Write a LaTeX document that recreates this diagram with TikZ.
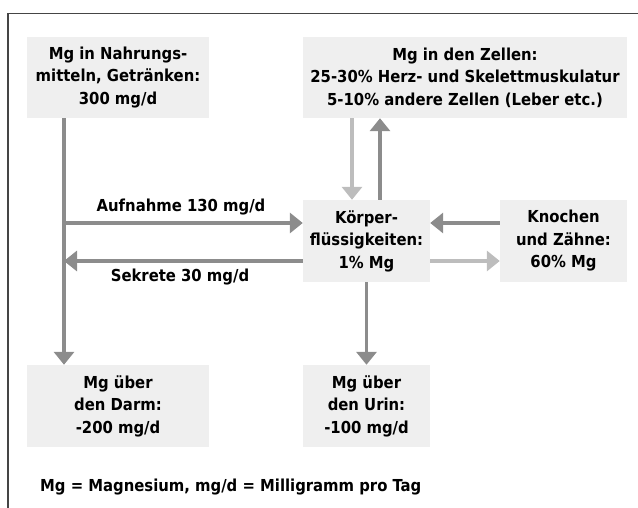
\documentclass[tikz,border=0pt]{standalone}
\usepackage{fontspec}
\setmainfont{DejaVu Sans Condensed}
\usetikzlibrary{arrows.meta,calc}
\definecolor{boxgray}{HTML}{EFEFEF}
\definecolor{darkarrow}{HTML}{8C8C8C}
\definecolor{lightarrow}{HTML}{BDBDBD}
\definecolor{framecol}{HTML}{454545}
\begin{document}
\begin{tikzpicture}[x=1pt,y=-1pt,
  box/.style={fill=boxgray,draw=none,inner sep=0pt,align=center,font=\bfseries\fontsize{16.5}{22.5}\selectfont},
  lbl/.style={inner sep=0pt,font=\bfseries\fontsize{16.5}{22.5}\selectfont},
  darr/.style={draw=darkarrow,line width=3.5pt,-{Triangle[width=20pt,length=13pt]},darkarrow},
  larr/.style={draw=lightarrow,line width=3.5pt,-{Triangle[width=20pt,length=13pt]},lightarrow}]
\useasboundingbox (0,0) rectangle (638,508);
\draw[framecol,line width=1.5pt] (638,13.5) -- (8,13.5) -- (8,508);
\node[box,minimum width=182pt,minimum height=81pt] (food) at (118,77.5) {Mg in Nahrungs-\\mitteln, Getränken:\\300 mg/d};
\node[box,minimum width=324pt,minimum height=81pt] (cells) at (465,77.5) {Mg in den Zellen:\\25-30\% Herz- und Skelettmuskulatur\\5-10\% andere Zellen (Leber etc.)};
\node[box,minimum width=127pt,minimum height=82pt] (fluid) at (366.5,241) {Körper-\\flüssigkeiten:\\1\% Mg};
\node[box,minimum width=127pt,minimum height=82pt] (bones) at (563.5,241) {Knochen\\und Zähne:\\60\% Mg};
\node[box,minimum width=182pt,minimum height=82pt] (darm) at (118,406) {Mg über\\den Darm:\\-200 mg/d};
\node[box,minimum width=127pt,minimum height=82pt] (urin) at (366.5,406) {Mg über\\den Urin:\\-100 mg/d};
\coordinate (xl) at (64,0);
\coordinate (xc1) at (352,0);
\coordinate (xc2) at (380,0);
\coordinate (yA) at (0,223);
\coordinate (yS) at (0,261);
\draw[darr] (food.south -| xl) -- (darm.north -| xl);
\draw[darr] (yA -| xl) -- (fluid.west |- yA);
\draw[darr] (fluid.west |- yS) -- (yS -| xl);
\draw[larr] (cells.south -| xc1) -- (fluid.north -| xc1);
\draw[darr] (fluid.north -| xc2) -- (cells.south -| xc2);
\draw[darr] (bones.west |- yA) -- (fluid.east |- yA);
\draw[larr] (fluid.east |- yS) -- (bones.west |- yS);
\draw[darr] (fluid.south) -- (urin.north);
\node[lbl] (aufn) at (181,207) {Aufnahme 130 mg/d};
\node[lbl] (sekr) at (180,277) {Sekrete 30 mg/d};
\node[lbl,anchor=west] (legend) at (40,487) {Mg = Magnesium, mg/d = Milligramm pro Tag};
\end{tikzpicture}
\end{document}
